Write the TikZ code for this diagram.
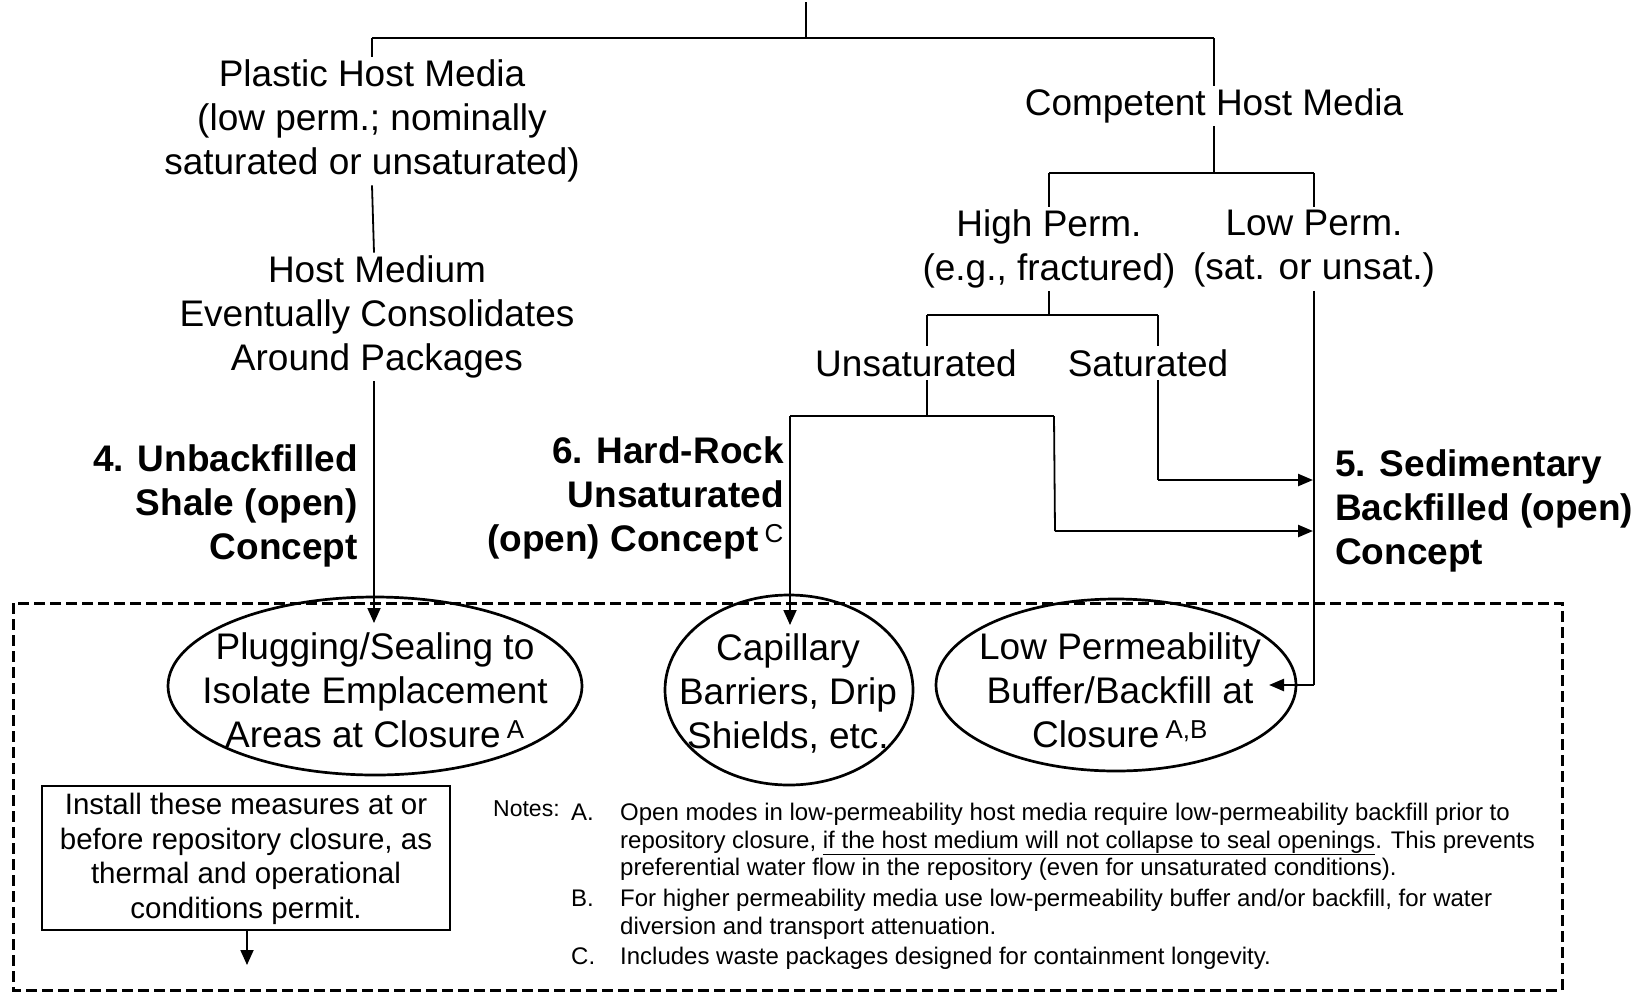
\documentclass[tikz,border=0pt]{standalone}
\usepackage{fontspec}
\setmainfont{Liberation Sans}
\usetikzlibrary{shapes.geometric,arrows.meta}
\begin{document}
\begin{tikzpicture}[x=1pt,y=-1pt,
  lbl/.style={align=center,inner sep=3pt,font=\fontsize{37}{44}\selectfont},
  blbl/.style={inner sep=0pt,font=\fontsize{37}{44}\selectfont\bfseries},
  note/.style={anchor=base west,inner sep=0pt,font=\fontsize{24}{28}\selectfont},
  thinln/.style={line width=1.8pt},
  bar/.style={line width=2.4pt},
  ell/.style={draw,ellipse,line width=2.7pt,inner sep=0pt},
  tipv/.style={-{Triangle[length=15pt,width=13pt]}},
  tiph/.style={-{Triangle[length=15pt,width=12pt]}},
]
\useasboundingbox (0,0) rectangle (1652,994);

% dashed frame
\draw[line width=3pt,dash pattern=on 11pt off 5pt] (13,603) rectangle (1562,990);

% text nodes
\node[lbl] (plastic) at (372,121) {Plastic Host Media\\(low perm.; nominally\\saturated or unsaturated)};
\node[lbl] (hostmed) at (377,317) {Host Medium\\Eventually Consolidates\\Around Packages};
\node[lbl] (competent) at (1214,106) {Competent Host Media};
\node[lbl] (highperm) at (1049,249) {High Perm.\\(e.g., fractured)};
\node[lbl] (lowperm) at (1314,249) {Low Perm.\\(sat. or unsat.)};
\node[lbl] (unsat) at (916,363) {Unsaturated};
\node[lbl] (sat) at (1148,363) {Saturated};

\node[blbl,anchor=east,align=right] (c4) at (358,506) {4. Unbackfilled\\Shale (open)\\Concept};
\node[blbl,anchor=east,align=right] (c6) at (784,498) {6. Hard-Rock\\Unsaturated\\(open) Concept\,\textsuperscript{\mdseries C}};
\node[blbl,anchor=west,align=left] (c5) at (1335,511) {5. Sedimentary\\Backfilled (open)\\Concept};

% ellipses
\node[ell,minimum width=414pt,minimum height=178pt] (e1) at (375,686) {};
\node[lbl] (e1t) at (375,690) {Plugging/Sealing to\\Isolate Emplacement\\Areas at Closure\,\textsuperscript{A}};
\node[ell,minimum width=248pt,minimum height=190pt] (e2) at (789,690) {};
\node[lbl] (e2t) at (788,693) {Capillary\\Barriers, Drip\\Shields, etc.};
\node[ell,minimum width=360pt,minimum height=172pt] (e3) at (1116,685) {};
\node[lbl] (e3t) at (1120,690) {Low Permeability\\Buffer/Backfill at\\Closure\,\textsuperscript{A,B}};

% install box
\node[draw,line width=2pt,minimum width=408pt,minimum height=144pt,inner sep=0pt] (install) at (246,858) {};
\node[align=center,inner sep=0pt,font=\fontsize{29.5}{34.5}\selectfont] (installt) at (246,859) {Install these measures at or\\before repository closure, as\\thermal and operational\\conditions permit.};
\coordinate (insttip) at (247,965);
\draw[thinln,tipv] (install.south -| insttip) -- (insttip);

% notes
\node[note,font=\fontsize{23}{28}\selectfont] (notes) at (493,816) {Notes:};
\node[note] (na) at (571,820) {A.};
\node[note] (na1) at (620,820) {Open modes in low-permeability host media require low-permeability backfill prior to};
\node[note] (na2) at (620,848) {repository closure, \underline{if the host medium will not collapse to seal openings}. This prevents};
\node[note] (na3) at (620,875) {preferential water flow in the repository (even for unsaturated conditions).};
\node[note] (nb) at (571,906) {B.};
\node[note] (nb1) at (620,906) {For higher permeability media use low-permeability buffer and/or backfill, for water};
\node[note] (nb2) at (620,934) {diversion and transport attenuation.};
\node[note] (nc) at (571,964) {C.};
\node[note] (nc1) at (620,964) {Includes waste packages designed for containment longevity.};

% tree connectors
\coordinate (top) at (806,2);
\coordinate (j0) at (806,38);
\coordinate (j0l) at (372,38);
\coordinate (j0r) at (1214,38);
\draw[thinln] (top) -- (j0);
\draw[bar] (j0l) -- (j0r);
\draw[thinln] (j0l) -- (plastic.north);
\draw[thinln] (j0r) -- (competent.north);
\draw[thinln] (plastic.south) -- (hostmed.north -| 374,0);

\coordinate (e1tip) at (374,623);
\draw[thinln,tipv] (hostmed.south -| e1tip) -- (e1tip);

\coordinate (j1) at (1214,173);
\coordinate (j1l) at (1049,173);
\coordinate (j1r) at (1314,173);
\draw[thinln] (competent.south) -- (j1);
\draw[bar] (j1l) -- (j1r);
\draw[thinln] (j1l) -- (highperm.north);
\draw[thinln] (j1r) -- (lowperm.north);

\coordinate (j2) at (1049,315);
\coordinate (j2l) at (927,315);
\coordinate (j2r) at (1158,315);
\draw[thinln] (highperm.south) -- (j2);
\draw[bar] (j2l) -- (j2r);
\draw[thinln] (j2l) -- (j2l |- unsat.north);
\draw[thinln] (j2r) -- (j2r |- sat.north);

\coordinate (j3) at (927,416);
\coordinate (j3l) at (790,416);
\coordinate (j3r) at (1054,416);
\draw[thinln] (j3 |- unsat.south) -- (j3);
\draw[bar] (j3l) -- (j3r);
\coordinate (e2tip) at (790,625);
\draw[thinln,tipv] (j3l) -- (e2tip);

\coordinate (b1) at (1055,531);
\coordinate (s5b) at (1313,531);
\draw[thinln] (j3r) -- (b1);
\draw[bar,tiph] (b1) -- (s5b);

\coordinate (b2) at (1158,480);
\coordinate (s5a) at (1313,480);
\draw[thinln] (b2 |- sat.south) -- (b2);
\draw[bar,tiph] (b2) -- (s5a);

\coordinate (b3) at (1314,685);
\coordinate (e3tip) at (1269,685);
\draw[thinln] (lowperm.south) -- (b3);
\draw[bar,tiph] (b3) -- (e3tip);

\end{tikzpicture}
\end{document}
